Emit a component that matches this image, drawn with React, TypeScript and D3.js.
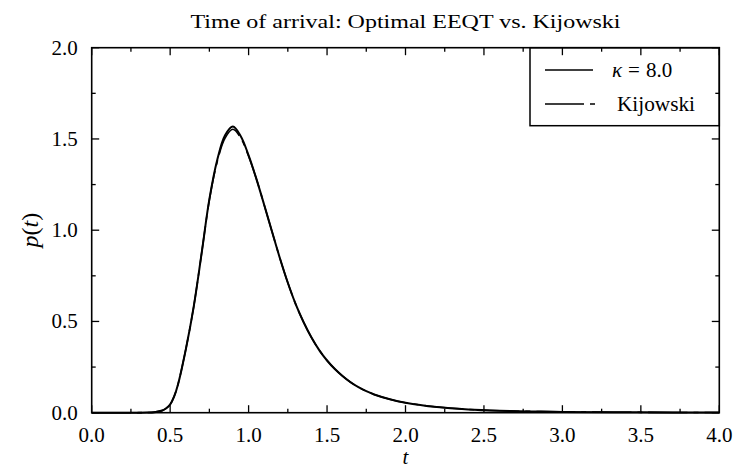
import React, { useEffect, useRef } from 'react';
import * as d3 from 'd3';

// values
const tValues = [0.0, 0.2, 0.3, 0.35, 0.4, 0.45, 0.475, 0.5, 0.525, 0.55, 0.6, 0.65, 0.7, 0.75, 0.8, 0.85, 0.9, 0.95, 1.0, 1.05, 1.1, 1.15, 1.2, 1.25, 1.3, 1.35, 1.4, 1.45, 1.5, 1.55, 1.6, 1.65, 1.7, 1.75, 1.8, 1.9, 2.0, 2.2, 2.4, 2.6, 2.8, 3.0, 3.5, 4.0];
const eeqtValues = [0.0, 0.0, 0.0002, 0.0008, 0.003, 0.012, 0.024, 0.045, 0.088, 0.155, 0.348, 0.58, 0.87, 1.17, 1.385, 1.52, 1.568, 1.515, 1.41, 1.28, 1.137, 0.99, 0.845, 0.712, 0.595, 0.497, 0.413, 0.343, 0.286, 0.239, 0.2, 0.167, 0.14, 0.118, 0.1, 0.074, 0.055, 0.031, 0.018, 0.011, 0.007, 0.0045, 0.002, 0.001];
const kijowskiValues = [0.0, 0.0, 0.0002, 0.0008, 0.003, 0.012, 0.024, 0.045, 0.088, 0.155, 0.348, 0.58, 0.87, 1.165, 1.375, 1.505, 1.553, 1.505, 1.405, 1.28, 1.137, 0.99, 0.845, 0.712, 0.595, 0.497, 0.413, 0.343, 0.286, 0.239, 0.2, 0.167, 0.14, 0.118, 0.1, 0.074, 0.055, 0.031, 0.018, 0.011, 0.007, 0.0045, 0.002, 0.001];
const xTicks = [0, 0.5, 1.0, 1.5, 2.0, 2.5, 3.0, 3.5, 4.0];
const yTicks = [0, 0.5, 1.0, 1.5, 2.0];

const W = 735;
const H = 469;
const margin = { left: 91.7, right: 735 - 719.3, top: 47.7, bottom: 469 - 412.7 };
const FONT = '"Liberation Serif", "DejaVu Serif", serif';

const App: React.FC = () => {
  const ref = useRef<SVGSVGElement>(null);

  useEffect(() => {
    if (!ref.current) return;
    const svg = d3.select(ref.current);
    svg.selectAll('*').remove();

    const x = d3.scaleLinear().domain([0, 4]).range([margin.left, W - margin.right]);
    const y = d3.scaleLinear().domain([0, 2]).range([H - margin.bottom, margin.top]);

    const g = svg.append('g');

    const line = d3.line<number>()
      .x((_, i) => x(tValues[i]))
      .y(d => y(d))
      .curve(d3.curveCatmullRom.alpha(0.5));

    g.append('path')
      .datum(eeqtValues)
      .attr('d', line)
      .attr('fill', 'none')
      .attr('stroke', '#000')
      .attr('stroke-width', 2);

    g.append('path')
      .datum(kijowskiValues)
      .attr('d', line)
      .attr('fill', 'none')
      .attr('stroke', '#000')
      .attr('stroke-width', 1.6)
      .attr('stroke-dasharray', '39,6,5,6');

    // legend
    const lg = g.append('g');
    lg.append('rect')
      .attr('x', 530).attr('y', margin.top)
      .attr('width', x(4) - 530).attr('height', 78)
      .attr('fill', '#fff').attr('stroke', '#000').attr('stroke-width', 1.5);
    lg.append('line').attr('x1', 545).attr('x2', 593).attr('y1', 70).attr('y2', 70)
      .attr('stroke', '#000').attr('stroke-width', 1.6);
    lg.append('line').attr('x1', 545).attr('x2', 596).attr('y1', 104).attr('y2', 104)
      .attr('stroke', '#000').attr('stroke-width', 1.6).attr('stroke-dasharray', '39,6,5,6');
    const k = lg.append('text').attr('x', 612).attr('y', 77).attr('font-family', FONT).attr('font-size', 21);
    k.append('tspan').attr('font-style', 'italic').text('κ');
    k.append('tspan').attr('dx', 6).text('=');
    k.append('tspan').attr('dx', 6).text('8.0');
    lg.append('text').attr('x', 617).attr('y', 111).attr('font-family', FONT).attr('font-size', 21)
      .attr('textLength', 78).attr('lengthAdjust', 'spacingAndGlyphs').text('Kijowski');

    // frame
    g.append('rect')
      .attr('x', x(0)).attr('y', y(2))
      .attr('width', x(4) - x(0)).attr('height', y(0) - y(2))
      .attr('fill', 'none').attr('stroke', '#000').attr('stroke-width', 1.6);

    // ticks, inward on all sides
    const xMinor = d3.range(0.25, 4, 0.5);
    const yMinor = d3.range(0.25, 2, 0.5);
    const tickStroke = (sel: d3.Selection<SVGLineElement, number, SVGGElement, unknown>) =>
      sel.attr('stroke', '#000').attr('stroke-width', 1.3);

    const addX = (vals: number[], len: number) => {
      tickStroke(g.append('g').selectAll('line').data(vals).join('line')
        .attr('x1', d => x(d)).attr('x2', d => x(d))
        .attr('y1', y(0)).attr('y2', y(0) - len));
      tickStroke(g.append('g').selectAll('line').data(vals).join('line')
        .attr('x1', d => x(d)).attr('x2', d => x(d))
        .attr('y1', y(2)).attr('y2', y(2) + len));
    };
    const addY = (vals: number[], len: number) => {
      tickStroke(g.append('g').selectAll('line').data(vals).join('line')
        .attr('y1', d => y(d)).attr('y2', d => y(d))
        .attr('x1', x(0)).attr('x2', x(0) + len));
      tickStroke(g.append('g').selectAll('line').data(vals).join('line')
        .attr('y1', d => y(d)).attr('y2', d => y(d))
        .attr('x1', x(4)).attr('x2', x(4) - len));
    };
    addX(xTicks, 7.5);
    addX(xMinor, 4);
    addY(yTicks, 7.5);
    addY(yMinor, 4);

    // tick labels
    g.append('g').selectAll('text').data(xTicks).join('text')
      .attr('x', d => x(d)).attr('y', y(0) + 29)
      .attr('text-anchor', 'middle')
      .attr('font-family', FONT).attr('font-size', 21)
      .text(d => d.toFixed(1));
    g.append('g').selectAll('text').data(yTicks).join('text')
      .attr('x', x(0) - 14).attr('y', d => y(d) + 7)
      .attr('text-anchor', 'end')
      .attr('font-family', FONT).attr('font-size', 21)
      .text(d => d.toFixed(1));

    // axis labels
    g.append('text')
      .attr('x', (x(0) + x(4)) / 2).attr('y', 464)
      .attr('text-anchor', 'middle')
      .attr('font-family', FONT).attr('font-size', 21).attr('font-style', 'italic')
      .text('t');
    const yl = g.append('text')
      .attr('transform', `translate(38, ${(y(0) + y(2)) / 2}) rotate(-90)`)
      .attr('text-anchor', 'middle')
      .attr('font-family', FONT).attr('font-size', 24);
    yl.append('tspan').attr('font-style', 'italic').text('p');
    yl.append('tspan').text('(');
    yl.append('tspan').attr('font-style', 'italic').text('t');
    yl.append('tspan').text(')');

    // title
    g.append('text')
      .attr('x', (x(0) + x(4)) / 2).attr('y', 28)
      .attr('text-anchor', 'middle')
      .attr('font-family', FONT).attr('font-size', 19)
      .attr('textLength', 430).attr('lengthAdjust', 'spacingAndGlyphs')
      .text('Time of arrival: Optimal EEQT vs. Kijowski');
  }, []);

  return (
    <svg ref={ref} width={W} height={H} viewBox={`0 0 ${W} ${H}`}
      style={{ position: 'absolute', left: 0, top: 0, background: '#fff' }} />
  );
};

export default App;
